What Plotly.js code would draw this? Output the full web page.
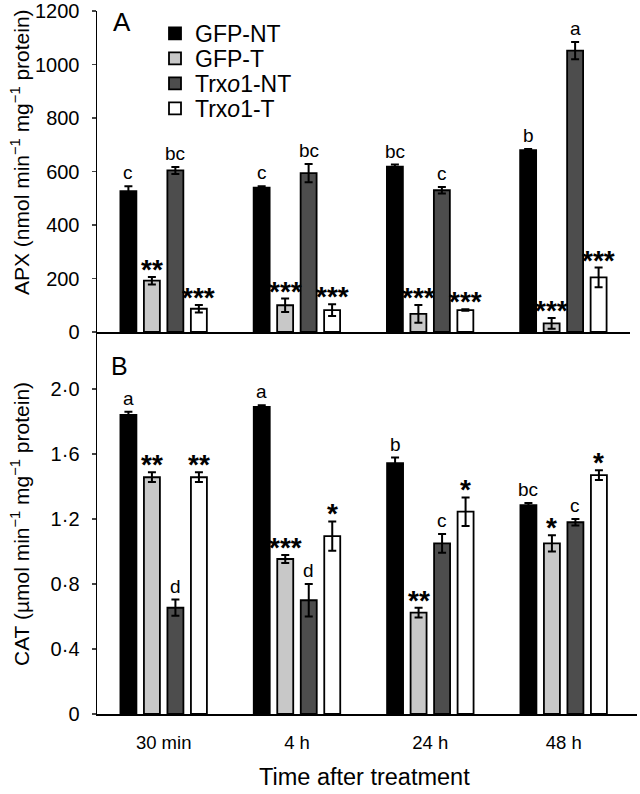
<!DOCTYPE html>
<html>
<head>
<meta charset="utf-8">
<script src="https://cdn.plot.ly/plotly-3.0.1.min.js"></script>
<style>html,body{margin:0;padding:0;background:#fff;}#chart{width:640px;height:794px;}</style>
</head>
<body>
<div id="chart"></div>
<script>
// ---- data ----
const categories = ['30 min', '4 h', '24 h', '48 h'];
const seriesNames = ['GFP-NT', 'GFP-T', 'Trx<i>o</i>1-NT', 'Trx<i>o</i>1-T'];
const seriesColors = ['#000000', '#c8c8c8', '#4d4d4d', '#ffffff'];

// Panel A: APX (nmol min-1 mg-1 protein)
const apxGfpNT = [527, 540, 618, 680];
const apxGfpNTErr = [18, 5, 8, 4];
const apxGfpT = [192, 100, 68, 32];
const apxGfpTErr = [14, 25, 33, 20];
const apxTrxNT = [604, 594, 530, 1052];
const apxTrxNTErr = [13, 34, 12, 32];
const apxTrxT = [87, 82, 82, 204];
const apxTrxTErr = [14, 22, 3, 37];
const apxLabels = [
  ['c', 'c', 'bc', 'b'],
  ['**', '***', '***', '***'],
  ['bc', 'bc', 'c', 'a'],
  ['***', '***', '***', '***']
];

// Panel B: CAT (umol min-1 mg-1 protein)
const catGfpNT = [1.84, 1.89, 1.543, 1.286];
const catGfpNTErr = [0.02, 0.01, 0.035, 0.012];
const catGfpT = [1.457, 0.954, 0.624, 1.05];
const catGfpTErr = [0.03, 0.025, 0.03, 0.05];
const catTrxNT = [0.654, 0.70, 1.05, 1.18];
const catTrxNTErr = [0.05, 0.10, 0.057, 0.02];
const catTrxT = [1.457, 1.095, 1.245, 1.47];
const catTrxTErr = [0.03, 0.09, 0.088, 0.03];
const catLabels = [
  ['a', 'a', 'b', 'bc'],
  ['**', '***', '**', '*'],
  ['d', 'd', 'c', 'c'],
  ['**', '*', '*', '*']
];

const apxTickVals = [0, 200, 400, 600, 800, 1000, 1200];
const catTickVals = [0, 0.4, 0.8, 1.2, 1.6, 2.0];
const catTickText = ['0', '0·4', '0·8', '1·2', '1·6', '2·0'];

// ---- build ----
const FONT = 'Liberation Sans, Arial, Helvetica, sans-serif';
const BARGAP = 0.295, BARGROUPGAP = 0.32;
const H = 714, W = 540, L = 97;

const apxVals = [apxGfpNT, apxGfpT, apxTrxNT, apxTrxT];
const apxErrs = [apxGfpNTErr, apxGfpTErr, apxTrxNTErr, apxTrxTErr];
const catVals = [catGfpNT, catGfpT, catTrxNT, catTrxT];
const catErrs = [catGfpNTErr, catGfpTErr, catTrxNTErr, catTrxTErr];
const legendIds = ['legend', 'legend2', 'legend3', 'legend4'];
const legendTopsPx = [12, 37, 62, 87];

const traces = [];
function addPanel(vals, errs, xa, ya, showLegend) {
  vals.forEach((v, i) => {
    traces.push({
      type: 'bar', x: categories, y: v, name: seriesNames[i],
      xaxis: xa, yaxis: ya, showlegend: showLegend, legend: legendIds[i],
      marker: {color: seriesColors[i], line: {color: '#000', width: 1.8}},
      error_y: {type: 'data', array: errs[i], visible: true, color: '#000', thickness: 2, width: 4}
    });
  });
}
addPanel(apxVals, apxErrs, 'x', 'y', true);
addPanel(catVals, catErrs, 'x2', 'y2', false);

const annotations = [];
const groupW = 1 - BARGAP, slot = groupW / 4;
function addLabels(vals, errs, labels, xref, yref) {
  vals.forEach((v, i) => {
    v.forEach((val, c) => {
      const txt = labels[i][c];
      const star = txt.indexOf('*') >= 0;
      annotations.push({
        x: c - groupW / 2 + slot * (i + 0.5), y: val + errs[i][c],
        xref: xref, yref: yref, text: txt, showarrow: false,
        xanchor: 'center', yanchor: 'bottom',
        yshift: star ? -10 : 1,
        font: star ? {family: FONT, size: 28, color: '#000', weight: 'bold'} : {family: FONT, size: 19, color: '#000'}
      });
    });
  });
}
addLabels(apxVals, apxErrs, apxLabels, 'x', 'y');
addLabels(catVals, catErrs, catLabels, 'x2', 'y2');

annotations.push({text: 'A', xref: 'paper', yref: 'paper', x: (111 - L) / W, y: (H - 5) / H, xanchor: 'left', yanchor: 'top', showarrow: false, font: {family: FONT, size: 26, color: '#000'}});
annotations.push({text: 'B', xref: 'paper', yref: 'paper', x: (109 - L) / W, y: (H - 350) / H, xanchor: 'left', yanchor: 'top', showarrow: false, font: {family: FONT, size: 25, color: '#000'}});
annotations.push({text: 'Time after treatment', xref: 'paper', yref: 'paper', x: (364 - L) / W, y: (H - 777) / H, xanchor: 'center', yanchor: 'middle', showarrow: false, font: {family: FONT, size: 23.5, color: '#000'}});
annotations.push({text: 'APX (nmol min<sup>−1</sup> mg<sup>−1</sup> protein)', textangle: -90, xref: 'paper', yref: 'paper', x: (20 - L) / W, y: (H - 152) / H, xanchor: 'center', yanchor: 'middle', showarrow: false, font: {family: FONT, size: 21, color: '#000'}});
annotations.push({text: 'CAT (µmol min<sup>−1</sup> mg<sup>−1</sup> protein)', textangle: -90, xref: 'paper', yref: 'paper', x: (20 - L) / W, y: (H - 524) / H, xanchor: 'center', yanchor: 'middle', showarrow: false, font: {family: FONT, size: 21, color: '#000'}});

const axisCommon = {showline: true, linecolor: '#000', linewidth: 1.5, showgrid: false, zeroline: false, fixedrange: true};

const layout = {
  width: 640, height: 794,
  margin: {l: L, r: 640 - L - W, t: 0, b: 794 - H},
  paper_bgcolor: '#fff', plot_bgcolor: '#fff',
  font: {family: FONT, color: '#000'},
  barmode: 'group', bargap: BARGAP, bargroupgap: BARGROUPGAP,
  showlegend: true,
  xaxis: Object.assign({}, axisCommon, {domain: [0, 533 / W], range: [-0.5, 3.5], anchor: 'y', showticklabels: false, ticks: '', type: 'category'}),
  yaxis: Object.assign({}, axisCommon, {domain: [(H - 332) / H, (H - 11) / H], range: [0, 1200], anchor: 'x', tickvals: apxTickVals, ticks: 'outside', ticklen: 4, tickwidth: 1.5, tickfont: {family: FONT, size: 20}, ticklabelstandoff: 8}),
  xaxis2: Object.assign({}, axisCommon, {domain: [0, 1], range: [-0.5, 3.55], anchor: 'y2', ticks: '', tickfont: {family: FONT, size: 18.5}, type: 'category', ticklabelstandoff: 11}),
  yaxis2: Object.assign({}, axisCommon, {domain: [0, (H - 333) / H], range: [0, (H - 333) / 162.5], anchor: 'x2', tickvals: catTickVals, ticktext: catTickText, ticks: 'outside', ticklen: 4, tickwidth: 1.5, tickfont: {family: FONT, size: 20}, ticklabelstandoff: 8}),
  annotations: annotations
};
legendIds.forEach((id, i) => {
  layout[id] = {x: (155 - L) / W, y: (H - legendTopsPx[i]) / H, xanchor: 'left', yanchor: 'top', bgcolor: 'rgba(0,0,0,0)', font: {family: FONT, size: 23, color: '#000'}, itemwidth: 30};
});

Plotly.newPlot('chart', traces, layout, {displayModeBar: false, staticPlot: true});
</script>
</body>
</html>
